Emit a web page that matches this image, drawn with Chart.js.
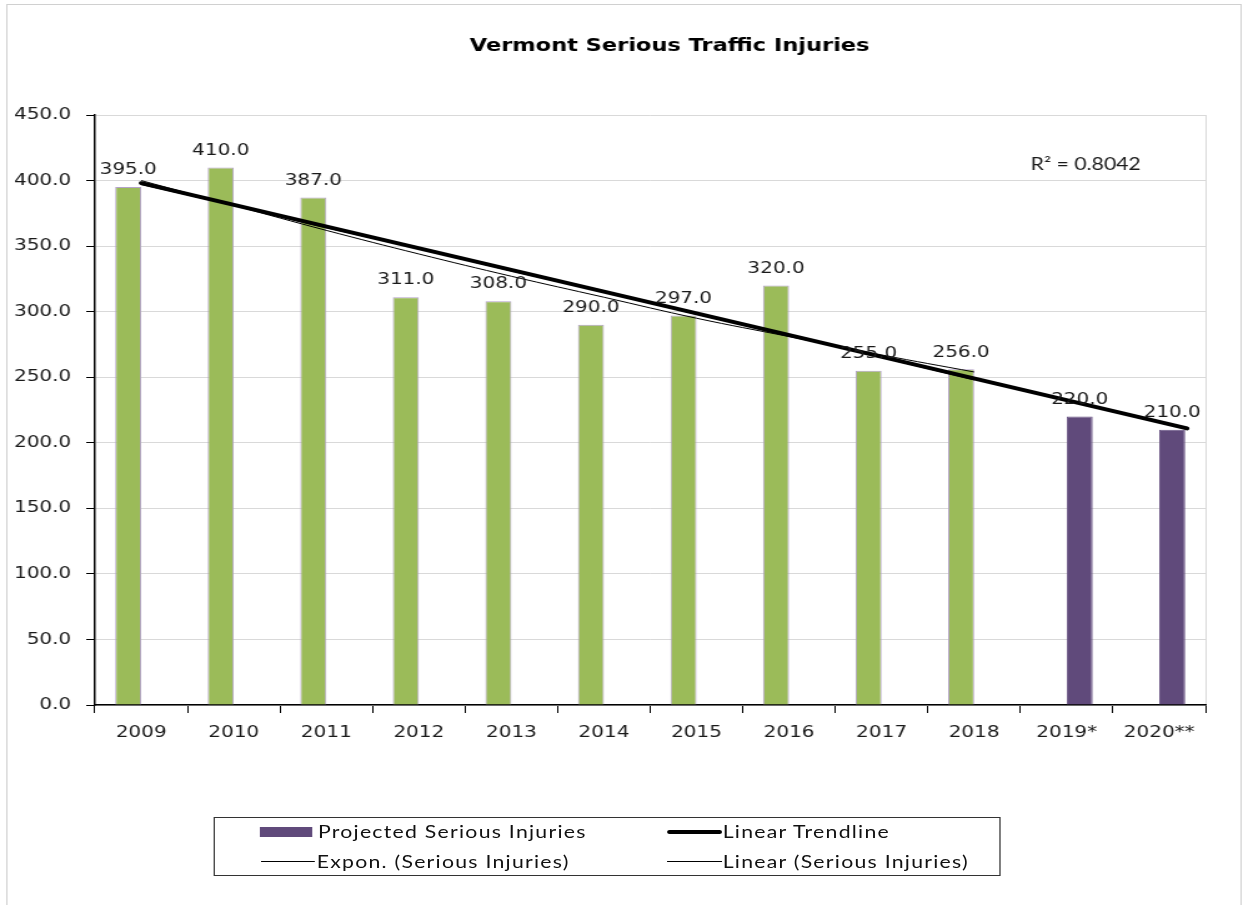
<!DOCTYPE html>
<html>
<head>
<meta charset="utf-8">
<script src="https://cdn.jsdelivr.net/npm/chart.js@4.4.1/dist/chart.umd.min.js"></script>
<style>
  html, body { margin: 0; padding: 0; background: #fff; overflow: hidden; }
  #wrap { position: absolute; left: 0; top: 0; width: 995px; height: 905px;
          transform: scaleX(1.2492); transform-origin: 0 0; }
  #chart { position: absolute; left: 0; top: 0; }
  #legend { position: absolute; left: 170.5px; top: 817px; width: 630px; height: 59px;
            border: 1px solid #333; box-sizing: border-box; font: 17px Lato, sans-serif;
            letter-spacing: 1px; color: #111; }
  .sw { position: absolute; }
  .lb { position: absolute; line-height: 20px; white-space: nowrap; }
</style>
</head>
<body>
<div id="wrap">
  <canvas id="chart" width="995" height="905"></canvas>
  <div id="legend">
    <div class="sw" style="left:36px; top:9px; width:42px; height:10px; background:#604a7b;"></div>
    <div class="lb" style="left:83px; top:4px;">Projected Serious Injuries</div>
    <div class="sw" style="left:362px; top:12px; width:44px; height:4px; background:#000; border-radius:2px;"></div>
    <div class="lb" style="left:407px; top:4px;">Linear Trendline</div>
    <div class="sw" style="left:37px; top:43px; width:43px; height:1px; background:#000;"></div>
    <div class="lb" style="left:82px; top:34px;">Expon. (Serious Injuries)</div>
    <div class="sw" style="left:362px; top:43px; width:44px; height:1px; background:#000;"></div>
    <div class="lb" style="left:407px; top:34px;">Linear (Serious Injuries)</div>
  </div>
</div>
<script>
// categories and values
const years = ['2009', '2010', '2011', '2012', '2013', '2014', '2015', '2016', '2017', '2018', '2019*', '2020**'];
const seriousInjuries = [395, 410, 387, 311, 308, 290, 297, 320, 255, 256, null, null];
const projectedInjuries = [null, null, null, null, null, null, null, null, null, null, 220, 210];

// trend lines, positions are category index (0 = 2009)
const trendPos = [0, 11.3];
const trendValues = [398, 211];
const fitPos = [0, 1, 2, 3, 4, 5, 6, 7, 8, 9];
const linearFit = [397, 381, 364, 348, 331, 315, 298, 282, 265, 248];
const exponFit = [400, 381, 362, 344, 327, 311, 295, 281, 267, 254];

const chartTitle = 'Vermont Serious Traffic Injuries';
const rSquared = 'R\u00b2 = 0.8042';

function pts(xs, ys) {
    return xs.map((x, i) => ({x: x, y: ys[i]}));
}

const frame = {
    id: 'frame',
    beforeDraw(chart) {
        const ctx = chart.ctx;
        const a = chart.chartArea;
        ctx.save();
        ctx.fillStyle = '#fff';
        ctx.fillRect(0, 0, chart.width, chart.height);
        ctx.strokeStyle = '#d0d0d0';
        ctx.lineWidth = 1;
        ctx.strokeRect(5.5, 4.5, 988, 920);
        ctx.beginPath();
        ctx.strokeStyle = '#d9d9d9';
        ctx.moveTo(a.right + 0.5, a.top);
        ctx.lineTo(a.right + 0.5, a.bottom);
        ctx.stroke();
        // title
        ctx.fillStyle = '#000';
        ctx.font = 'bold 18px "DejaVu Sans"';
        ctx.textAlign = 'center';
        ctx.textBaseline = 'middle';
        ctx.fillText(chartTitle, 536, 46);
        ctx.restore();
    },
    afterDatasetsDraw(chart) {
        const ctx = chart.ctx;
        ctx.save();
        ctx.font = '16px "DejaVu Sans"';
        ctx.fillStyle = '#1a1a1a';
        ctx.textAlign = 'center';
        ctx.textBaseline = 'middle';
        [0, 1].forEach(di => {
            const ds = chart.data.datasets[di];
            chart.getDatasetMeta(di).data.forEach((bar, i) => {
                const v = ds.data[i];
                if (v === null) return;
                ctx.fillText(v.toFixed(1), bar.x, bar.y - 17);
            });
        });
        ctx.font = '17px Lato';
        ctx.textAlign = 'left';
        ctx.fillText(rSquared, 825, 165);
        ctx.restore();
    }
};

new Chart(document.getElementById('chart'), {
    type: 'bar',
    data: {
        labels: years,
        datasets: [
            {
                label: 'Serious Injuries',
                data: seriousInjuries,
                backgroundColor: '#9bbb59',
                borderColor: '#b3a2c7',
                borderWidth: 1,
                categoryPercentage: 0.562,
                barPercentage: 1,
                order: 1,
            },
            {
                label: 'Projected Serious Injuries',
                data: projectedInjuries,
                backgroundColor: '#604a7b',
                borderColor: '#6a5585',
                borderWidth: 1,
                categoryPercentage: 0.562,
                barPercentage: 1,
                order: 1,
            },
            {
                type: 'line',
                label: 'Linear Trendline',
                data: pts(trendPos, trendValues),
                parsing: false,
                borderColor: '#000',
                borderWidth: 4,
                pointRadius: 0,
                borderCapStyle: 'round',
                order: 0,
            },
            {
                type: 'line',
                label: 'Expon. (Serious Injuries)',
                data: pts(fitPos, exponFit),
                parsing: false,
                borderColor: '#000',
                borderWidth: 1,
                pointRadius: 0,
                tension: 0.4,
                order: 0,
            },
            {
                type: 'line',
                label: 'Linear (Serious Injuries)',
                data: pts(fitPos, linearFit),
                parsing: false,
                borderColor: '#000',
                borderWidth: 1,
                pointRadius: 0,
                order: 0,
            },
        ]
    },
    options: {
        responsive: false,
        animation: false,
        devicePixelRatio: 1,
        layout: {padding: {top: 115, left: 0, right: 30, bottom: 100}},
        plugins: {
            legend: {display: false},
            tooltip: {enabled: false},
            title: {display: false},
        },
        scales: {
            x: {
                type: 'category',
                offset: true,
                grid: {offset: true, drawOnChartArea: false, color: '#000', tickLength: 8},
                border: {color: '#000', width: 1.5},
                ticks: {color: '#1a1a1a', padding: 10, maxRotation: 0, autoSkip: false,
                        font: {family: '"DejaVu Sans"', size: 16}},
                afterFit(s) { s.height = 100; },
            },
            y: {
                min: 0,
                max: 450,
                ticks: {stepSize: 50, color: '#1a1a1a', padding: 12,
                        font: {family: '"DejaVu Sans"', size: 16},
                        callback: v => v.toFixed(1)},
                grid: {color: '#d9d9d9', tickColor: '#000', tickLength: 7},
                border: {color: '#000', width: 1.5},
                afterFit(s) { s.width = 76; },
            },
        },
    },
    plugins: [frame],
});
</script>
</body>
</html>
